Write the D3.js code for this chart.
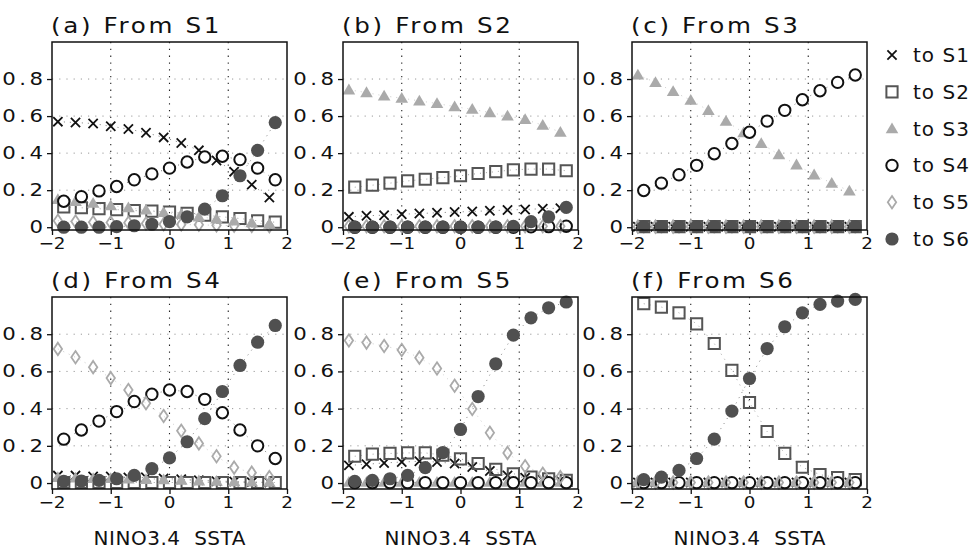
<!DOCTYPE html>
<html><head><meta charset="utf-8">
<script src="https://cdn.jsdelivr.net/npm/d3@7"></script>
<style>body{margin:0;background:#fff}svg{display:block}text{font-family:"DejaVu Sans",sans-serif;fill:#111;white-space:pre}</style>
</head><body><svg id="c" width="971" height="551"></svg>
<script>
// ---------- data ----------
const xTicks = [-2, -1, 0, 1, 2];
const yTicks = [0, 0.2, 0.4, 0.6, 0.8];
const yTickLabels = ["0", "0.2", "0.4", "0.6", "0.8"];
const xTickLabels = ["\u22122", "\u22121", "0", "1", "2"];
const xA = [-1.9, -1.6, -1.3, -1.0, -0.7, -0.4, -0.1, 0.2, 0.5, 0.8, 1.1, 1.4, 1.7]; // to S1, S3, S5
const xB = [-1.8, -1.5, -1.2, -0.9, -0.6, -0.3, 0.0, 0.3, 0.6, 0.9, 1.2, 1.5, 1.8]; // to S2, S4, S6
const panelTitles = ["(a) From S1", "(b) From S2", "(c) From S3", "(d) From S4", "(e) From S5", "(f) From S6"];
const legendLabels = ["to S1", "to S2", "to S3", "to S4", "to S5", "to S6"];
const xTitle = "NINO3.4  SSTA";

const a_toS1 = [0.57, 0.565, 0.56, 0.545, 0.53, 0.51, 0.485, 0.455, 0.415, 0.36, 0.30, 0.23, 0.16];
const a_toS2 = [0.11, 0.105, 0.10, 0.095, 0.09, 0.087, 0.082, 0.075, 0.065, 0.056, 0.047, 0.035, 0.027];
const a_toS3 = [0.15, 0.14, 0.13, 0.116, 0.105, 0.093, 0.08, 0.069, 0.056, 0.045, 0.034, 0.025, 0.016];
const a_toS4 = [0.14, 0.165, 0.196, 0.22, 0.256, 0.288, 0.319, 0.352, 0.379, 0.383, 0.365, 0.319, 0.256];
const a_toS5 = [0.035, 0.031, 0.027, 0.025, 0.024, 0.02, 0.016, 0.015, 0.013, 0.01, 0.008, 0.007, 0.005];
const a_toS6 = [0.0, 0.0, 0.0, 0.003, 0.008, 0.016, 0.03, 0.056, 0.098, 0.17, 0.278, 0.415, 0.565];

const b_toS1 = [0.056, 0.062, 0.065, 0.07, 0.074, 0.078, 0.082, 0.085, 0.089, 0.093, 0.096, 0.10, 0.103];
const b_toS2 = [0.216, 0.227, 0.238, 0.25, 0.259, 0.268, 0.278, 0.29, 0.30, 0.31, 0.314, 0.314, 0.305];
const b_toS3 = [0.742, 0.727, 0.709, 0.697, 0.682, 0.668, 0.651, 0.637, 0.619, 0.601, 0.582, 0.551, 0.513];
const b_toS4 = [0.0, 0.0, 0.0, 0.0, 0.0, 0.0, 0.0, 0.0, 0.0, 0.0, 0.002, 0.003, 0.005];
const b_toS5 = [0.005, 0.005, 0.005, 0.005, 0.005, 0.005, 0.005, 0.005, 0.005, 0.005, 0.005, 0.005, 0.005];
const b_toS6 = [0.0, 0.0, 0.0, 0.0, 0.0, 0.0, 0.0, 0.0, 0.0, 0.005, 0.03, 0.056, 0.107];

const c_toS1 = [0.003, 0.003, 0.003, 0.003, 0.003, 0.003, 0.003, 0.003, 0.003, 0.003, 0.003, 0.003, 0.003];
const c_toS2 = [0.003, 0.003, 0.003, 0.003, 0.003, 0.003, 0.003, 0.003, 0.003, 0.003, 0.003, 0.003, 0.003];
const c_toS3 = [0.822, 0.782, 0.733, 0.686, 0.631, 0.573, 0.51, 0.452, 0.392, 0.337, 0.283, 0.238, 0.196];
const c_toS4 = [0.198, 0.238, 0.283, 0.334, 0.397, 0.452, 0.513, 0.573, 0.631, 0.688, 0.737, 0.782, 0.822];
const c_toS5 = [0.003, 0.003, 0.003, 0.003, 0.003, 0.003, 0.003, 0.003, 0.003, 0.003, 0.003, 0.003, 0.003];
const c_toS6 = [0.003, 0.003, 0.003, 0.003, 0.003, 0.003, 0.003, 0.003, 0.003, 0.003, 0.003, 0.003, 0.003];

const d_toS1 = [0.04, 0.04, 0.035, 0.035, 0.03, 0.03, 0.025, 0.02, 0.015, 0.01, 0.008, 0.005, 0.003];
const d_toS2 = [0.003, 0.003, 0.003, 0.003, 0.003, 0.003, 0.003, 0.003, 0.003, 0.003, 0.003, 0.003, 0.003];
const d_toS3 = [0.03, 0.028, 0.025, 0.025, 0.022, 0.02, 0.018, 0.015, 0.012, 0.01, 0.008, 0.006, 0.005];
const d_toS4 = [0.236, 0.285, 0.333, 0.384, 0.438, 0.477, 0.50, 0.492, 0.45, 0.378, 0.285, 0.20, 0.132];
const d_toS5 = [0.721, 0.676, 0.623, 0.564, 0.50, 0.429, 0.36, 0.281, 0.213, 0.144, 0.083, 0.056, 0.032];
const d_toS6 = [0.009, 0.011, 0.014, 0.023, 0.041, 0.077, 0.135, 0.222, 0.346, 0.492, 0.632, 0.757, 0.847];

const e_toS1 = [0.095, 0.101, 0.108, 0.113, 0.117, 0.113, 0.105, 0.086, 0.065, 0.041, 0.029, 0.018, 0.014];
const e_toS2 = [0.144, 0.155, 0.159, 0.162, 0.162, 0.15, 0.13, 0.105, 0.074, 0.05, 0.032, 0.022, 0.014];
const e_toS3 = [0.005, 0.005, 0.005, 0.005, 0.005, 0.005, 0.005, 0.005, 0.005, 0.005, 0.005, 0.005, 0.005];
const e_toS4 = [0.002, 0.002, 0.002, 0.002, 0.002, 0.002, 0.002, 0.002, 0.002, 0.002, 0.002, 0.002, 0.002];
const e_toS5 = [0.766, 0.755, 0.737, 0.715, 0.674, 0.616, 0.523, 0.398, 0.27, 0.162, 0.09, 0.05, 0.032];
const e_toS6 = [0.009, 0.014, 0.023, 0.041, 0.083, 0.164, 0.288, 0.465, 0.641, 0.795, 0.888, 0.942, 0.973];

const f_toS1 = [0.003, 0.003, 0.003, 0.003, 0.003, 0.003, 0.003, 0.003, 0.003, 0.003, 0.003, 0.003, 0.003];
const f_toS2 = [0.964, 0.946, 0.915, 0.856, 0.75, 0.606, 0.433, 0.277, 0.16, 0.085, 0.045, 0.029, 0.018];
const f_toS3 = [0.005, 0.005, 0.005, 0.005, 0.005, 0.005, 0.005, 0.005, 0.005, 0.005, 0.005, 0.005, 0.005];
const f_toS4 = [0.002, 0.002, 0.002, 0.002, 0.002, 0.002, 0.002, 0.002, 0.002, 0.002, 0.002, 0.002, 0.002];
const f_toS5 = [0.003, 0.003, 0.003, 0.003, 0.003, 0.003, 0.003, 0.003, 0.003, 0.003, 0.003, 0.003, 0.003];
const f_toS6 = [0.018, 0.032, 0.068, 0.132, 0.236, 0.387, 0.562, 0.723, 0.84, 0.915, 0.96, 0.978, 0.987];

const panelSeries = [
  [a_toS1, a_toS2, a_toS3, a_toS4, a_toS5, a_toS6],
  [b_toS1, b_toS2, b_toS3, b_toS4, b_toS5, b_toS6],
  [c_toS1, c_toS2, c_toS3, c_toS4, c_toS5, c_toS6],
  [d_toS1, d_toS2, d_toS3, d_toS4, d_toS5, d_toS6],
  [e_toS1, e_toS2, e_toS3, e_toS4, e_toS5, e_toS6],
  [f_toS1, f_toS2, f_toS3, f_toS4, f_toS5, f_toS6]
];
const seriesX = [xA, xB, xA, xB, xA, xB];

// ---------- styles ----------
const markerStyle = [
  {shape: "times",    stroke: "#111", fill: "none",    sw: 1.8, line: "#222"},
  {shape: "square",   stroke: "#555", fill: "none",    sw: 2.0, line: "#666"},
  {shape: "triangle", stroke: "none", fill: "#aaa",    sw: 0,   line: "#aaa"},
  {shape: "circle",   stroke: "#111", fill: "#fff",    sw: 2.0, line: "#222"},
  {shape: "diamond",  stroke: "#aaa", fill: "none",    sw: 1.8, line: "#aaa"},
  {shape: "dot",      stroke: "none", fill: "#505050", sw: 0,   line: "#333"}
];
function shapePath(s) {
  const p = d3.path();
  if (s === "times") { const h = 4.6; p.moveTo(-h,-h); p.lineTo(h,h); p.moveTo(-h,h); p.lineTo(h,-h); }
  else if (s === "square") { const h = 5.6; p.rect(-h,-h,2*h,2*h); }
  else if (s === "triangle") { const w = 6.3, t = -6.2, b = 4.6; p.moveTo(0,t); p.lineTo(w,b); p.lineTo(-w,b); p.closePath(); }
  else if (s === "circle") { p.arc(0,0,5.7,0,2*Math.PI); }
  else if (s === "diamond") { const w = 4.2, h = 6.2; p.moveTo(0,-h); p.lineTo(w,0); p.lineTo(0,h); p.lineTo(-w,0); p.closePath(); }
  else if (s === "dot") { p.arc(0,0,6.6,0,2*Math.PI); }
  return p.toString();
}

const svg = d3.select("#c");
svg.append("rect").attr("width",971).attr("height",551).attr("fill","#fff");

// text with horizontal stretch; letter-spacing trailing gap compensated for end/middle anchors
function label(parent, x, y, str, size, anchor, sx, ls) {
  let dx = 0;
  if (anchor === "end") dx = ls * sx;
  else if (anchor === "middle") dx = ls * sx / 2;
  const g = parent.append("g").attr("transform", `translate(${x + dx},${y})`);
  g.append("text").attr("transform", `scale(${sx},1)`)
    .attr("text-anchor", anchor).attr("font-size", size)
    .attr("letter-spacing", ls).text(str);
  return g;
}

const lefts = [52, 343, 632];
const pw = 235;
const rows = [{top: 42, bottom: 230, yMin: -0.015}, {top: 297, bottom: 489, yMin: -0.032}];

panelSeries.forEach((series, pi) => {
  const col = pi % 3, row = rows[Math.floor(pi / 3)];
  const x = d3.scaleLinear().domain([-2, 2]).range([lefts[col], lefts[col] + pw]);
  const y = d3.scaleLinear().domain([row.yMin, 1.0]).range([row.bottom, row.top]);
  const g = svg.append("g");

  // gridlines
  g.selectAll(".hg").data(yTicks.slice(1)).join("line")
    .attr("x1", x(-2)).attr("x2", x(2)).attr("y1", d => y(d)).attr("y2", d => y(d))
    .attr("stroke", "#999").attr("stroke-width", 1).attr("stroke-dasharray", "1.2,6");
  g.selectAll(".vg").data(xTicks.slice(1, -1)).join("line")
    .attr("x1", d => x(d)).attr("x2", d => x(d)).attr("y1", y(1.0)).attr("y2", y(row.yMin))
    .attr("stroke", "#222").attr("stroke-width", 1.1).attr("stroke-dasharray", "1.3,5.5");

  // axes
  const ya = d3.axisLeft(y).tickValues(yTicks).tickSize(5).tickFormat("");
  const xa = d3.axisBottom(x).tickValues(xTicks).tickSize(5).tickFormat("");
  const yg = g.append("g").attr("transform", `translate(${x(-2)},0)`).call(ya);
  const xg = g.append("g").attr("transform", `translate(0,${row.bottom})`).call(xa);
  [yg, xg].forEach(a => { a.select(".domain").remove(); a.selectAll("line").attr("stroke", "#111").attr("stroke-width", 1.3); });

  yTicks.forEach((t, i) => label(g, x(-2) - 9, y(t) + 6, yTickLabels[i], 17, "end", 1.25, 2.8));
  xTicks.forEach((t, i) => label(g, x(t), row.bottom + 19, xTickLabels[i], 16, "middle", 1.15, 0));

  // connecting dotted lines
  series.forEach((vals, si) => {
    const xs = seriesX[si];
    const line = d3.line().x((d, i) => x(xs[i])).y(d => y(d));
    g.append("path").attr("d", line(vals)).attr("fill", "none")
      .attr("stroke", markerStyle[si].line).attr("stroke-width", 1)
      .attr("stroke-dasharray", "1,5").attr("opacity", 0.6);
  });

  // markers
  series.forEach((vals, si) => {
    const st = markerStyle[si], xs = seriesX[si];
    g.append("g").selectAll("path").data(vals).join("path")
      .attr("transform", (d, i) => `translate(${x(xs[i])},${y(d)})`)
      .attr("d", shapePath(st.shape))
      .attr("fill", st.fill).attr("stroke", st.stroke).attr("stroke-width", st.sw);
  });

  // frame
  g.append("rect").attr("x", x(-2)).attr("y", y(1.0)).attr("width", pw).attr("height", row.bottom - row.top)
    .attr("fill", "none").attr("stroke", "#111").attr("stroke-width", 1.5);

  // title
  label(g, x(-2) - 1, row.top - 9, panelTitles[pi], 20.5, "start", 1.2, 2.2);
  if (pi >= 3) label(g, x(0), 545, xTitle, 20, "middle", 1.0, 0.5);
});

// legend
const lg = svg.append("g");
const legendY = d3.scalePoint().domain(legendLabels).range([55, 239]);
legendLabels.forEach((lab, i) => {
  const st = markerStyle[i];
  lg.append("path").attr("transform", `translate(892,${legendY(lab)})`)
    .attr("d", shapePath(st.shape)).attr("fill", st.fill).attr("stroke", st.stroke).attr("stroke-width", st.sw);
  label(lg, 913, legendY(lab) + 7, lab, 19, "start", 1.05, 1);
});
</script></body></html>
